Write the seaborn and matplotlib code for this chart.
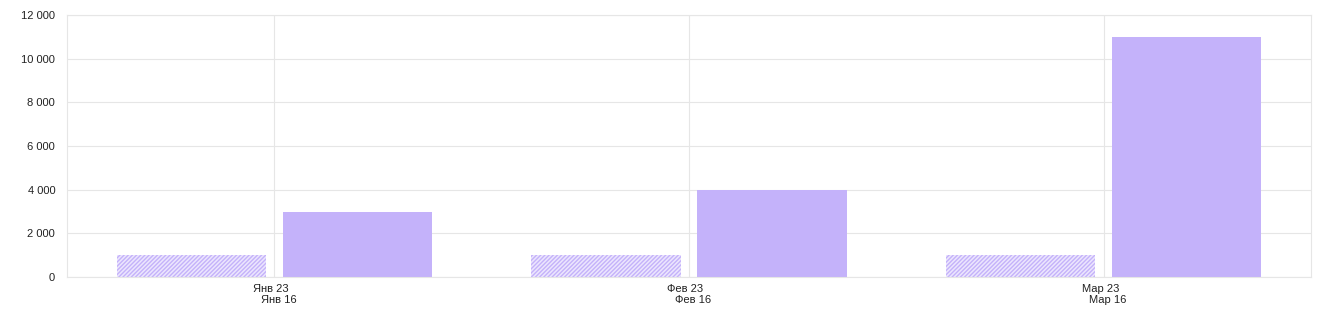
import matplotlib
matplotlib.use("Agg")
import matplotlib.pyplot as plt
import seaborn as sns
import pandas as pd
from matplotlib.ticker import FuncFormatter, MultipleLocator

categories = ["Янв", "Фев", "Мар"]
labels_current = ["Янв 23", "Фев 23", "Мар 23"]
labels_previous = ["Янв 16", "Фев 16", "Мар 16"]
series_names = ["prev", "curr"]
values_prev = [1000, 1000, 1000]
values_curr = [3000, 4000, 11000]

df = pd.DataFrame({
    "cat": categories * 2,
    "series": [series_names[0]] * 3 + [series_names[1]] * 3,
    "value": values_prev + values_curr,
})

sns.set_theme(style="white")
plt.rcParams["font.family"] = ["Liberation Sans", "DejaVu Sans"]

fig = plt.figure(figsize=(13.4, 3.17), dpi=100)
ax = fig.add_axes([67 / 1340, 1 - 277 / 317, (1311 - 67) / 1340, (277 - 15) / 317])

color = "#c4b2fa"
sns.barplot(data=df, x="cat", y="value", hue="series", order=categories,
            hue_order=series_names, palette=[color, color], width=0.8, gap=0.1,
            ax=ax, legend=False, saturation=1, linewidth=0)

plt.rcParams["hatch.color"] = color
plt.rcParams["hatch.linewidth"] = 1.4
for p in ax.containers[0]:
    p.set_facecolor("#ece6fe")
    p.set_edgecolor(color)
    p.set_hatch("////////")
    p.set_linewidth(0)

ax.set_ylim(0, 12000)
ax.set_xlim(-0.5, 2.5)
ax.yaxis.set_major_locator(MultipleLocator(2000))
ax.yaxis.set_major_formatter(FuncFormatter(lambda v, _: f"{int(v):,}".replace(",", " ")))
ax.grid(True, axis="both", color="#e6e6e6", linewidth=0.8)
ax.set_axisbelow(True)
for s in ax.spines.values():
    s.set_color("#e6e6e6")
    s.set_linewidth(0.8)

ax.set_xlabel("")
ax.set_ylabel("")
ax.set_xticks(range(len(categories)))
ax.set_xticklabels([])
ax.tick_params(axis="both", length=0, labelsize=8, colors="#222222")
ax.tick_params(axis="y", pad=8.5)

for i in range(len(categories)):
    ax.annotate(labels_current[i], xy=(i, 0), xycoords=("data", "axes fraction"),
                xytext=(-2.5, -8.6), textcoords="offset points", ha="center", va="center",
                fontsize=8, color="#222222")
    ax.annotate(labels_previous[i], xy=(i, 0), xycoords=("data", "axes fraction"),
                xytext=(3, -16.6), textcoords="offset points", ha="center", va="center",
                fontsize=8, color="#222222")

fig.savefig("out.png", dpi=100, facecolor="white")
